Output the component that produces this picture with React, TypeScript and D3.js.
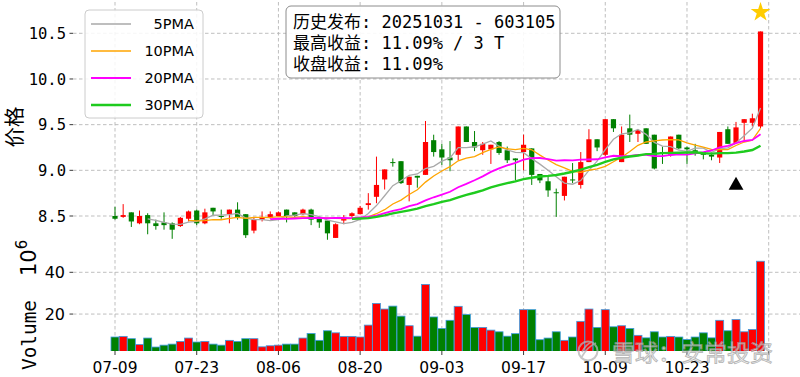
import React from 'react';
import * as d3 from 'd3';

const dates = [
  '07-09','07-10','07-11','07-14','07-15','07-16','07-17','07-18','07-21','07-22',
  '07-23','07-24','07-25','07-28','07-29','07-30','07-31','08-01','08-04','08-05',
  '08-06','08-07','08-08','08-11','08-12','08-13','08-14','08-15','08-18','08-19',
  '08-20','08-21','08-22','08-25','08-26','08-27','08-28','08-29','09-01','09-02',
  '09-03','09-04','09-05','09-08','09-09','09-10','09-11','09-12','09-15','09-16',
  '09-17','09-18','09-19','09-22','09-23','09-24','09-25','09-26','09-29','09-30',
  '10-09','10-10','10-13','10-14','10-15','10-16','10-17','10-20','10-21','10-22',
  '10-23','10-24','10-27','10-28','10-29','10-30','10-31','11-03','11-04','11-05',
];
const opens = [
  8.50,8.49,8.54,8.42,8.51,8.42,8.43,8.42,8.39,8.47,
  8.56,8.42,8.59,8.50,8.52,8.57,8.52,8.34,8.46,8.49,
  8.50,8.57,8.54,8.52,8.57,8.47,8.45,8.26,8.45,8.50,
  8.52,8.62,8.71,8.90,9.09,9.10,8.84,8.94,8.95,9.33,
  9.23,9.14,9.17,9.48,9.31,9.22,9.23,9.31,9.22,9.13,
  9.20,9.24,8.96,8.88,8.76,8.72,8.90,8.84,9.09,9.34,
  9.17,9.56,9.09,9.46,9.40,9.46,9.39,9.20,9.17,9.39,
  9.25,9.22,9.20,9.17,9.14,9.45,9.30,9.52,9.52,9.48,
];
const highs = [
  8.60,8.63,8.54,8.56,8.53,8.46,8.54,8.43,8.49,8.56,
  8.57,8.58,8.59,8.57,8.57,8.65,8.52,8.49,8.55,8.55,
  8.55,8.57,8.54,8.58,8.58,8.47,8.45,8.42,8.51,8.54,
  8.61,8.75,9.15,9.01,9.13,9.10,8.93,8.94,9.54,9.39,
  9.29,9.32,9.48,9.48,9.43,9.31,9.28,9.32,9.26,9.13,
  9.39,9.24,8.96,8.94,8.80,8.93,9.08,9.20,9.45,9.34,
  9.56,9.56,9.48,9.61,9.44,9.46,9.39,9.26,9.37,9.39,
  9.26,9.29,9.20,9.20,9.42,9.48,9.53,9.56,9.62,10.52,
];
const lows = [
  8.46,8.48,8.38,8.41,8.30,8.35,8.35,8.25,8.38,8.44,
  8.40,8.41,8.51,8.47,8.42,8.46,8.26,8.31,8.44,8.47,
  8.49,8.43,8.49,8.51,8.40,8.37,8.24,8.26,8.41,8.47,
  8.52,8.57,8.64,8.79,9.04,8.85,8.66,8.81,8.95,9.15,
  9.06,8.99,9.11,9.31,9.21,9.17,9.07,9.17,9.08,8.89,
  9.00,8.84,8.86,8.71,8.49,8.67,8.86,8.80,9.09,9.21,
  9.15,9.42,9.09,9.31,9.31,9.29,9.01,9.07,9.15,9.23,
  9.07,9.16,9.12,9.11,9.08,9.29,9.30,9.31,9.48,9.46,
];
const closes = [
  8.47,8.51,8.44,8.50,8.42,8.39,8.40,8.35,8.48,8.55,
  8.42,8.54,8.55,8.49,8.57,8.49,8.29,8.46,8.49,8.52,
  8.54,8.50,8.50,8.57,8.46,8.43,8.31,8.41,8.47,8.53,
  8.59,8.64,8.84,9.01,9.08,8.86,8.93,8.92,9.31,9.20,
  9.14,9.11,9.48,9.31,9.25,9.29,9.28,9.19,9.11,9.11,
  9.28,8.95,8.89,8.78,8.75,8.93,8.89,9.09,9.34,9.25,
  9.56,9.46,9.39,9.39,9.44,9.29,9.02,9.18,9.37,9.24,
  9.23,9.20,9.17,9.15,9.42,9.29,9.47,9.56,9.57,10.52,
];
const volumes = [
  9.0,9.3,8.2,5.4,8.5,4.2,5.1,5.6,6.9,8.5,
  6.6,6.9,5.6,5.1,7.4,6.9,8.2,8.2,4.3,4.8,
  5.1,5.6,5.6,8.5,10.7,7.4,12.0,11.0,9.3,9.3,
  9.0,14.7,25.1,22.4,23.8,19.0,14.4,9.4,34.2,18.6,
  13.1,17.0,23.7,19.8,13.6,13.6,12.3,11.5,9.4,10.6,
  22.1,22.1,7.7,8.5,11.5,7.4,9.0,16.5,22.4,13.6,
  22.1,13.9,14.4,13.1,9.8,8.6,11.5,9.0,9.3,9.0,
  7.8,9.0,11.0,8.6,17.0,12.0,17.4,11.5,12.6,45.3,
];
const tickIndices = [0, 10, 20, 30, 40, 50, 60, 70, 80];
const tickLabels = ['07-09','07-23','08-06','08-20','09-03','09-17','10-09','10-23',''];
const priceTicks = [8.5, 9.0, 9.5, 10.0, 10.5];
const volumeTicks = [20, 40];
const maWindows = [5, 10, 20, 30];
const maLabels = ['5PMA', '10PMA', '20PMA', '30PMA'];
const maColors = ['#a9a9a9', '#ffa500', '#ff00ff', '#1ecb1e'];
const maWidths = [1.3, 1.3, 1.8, 2.4];
const releaseIndex = 76;
const annotationLines = [
  '历史发布: 20251031 - 603105',
  '最高收益: 11.09% / 3 T',
  '收盘收益: 11.09%',
];

const W = 800, H = 377;
const AX_L = 73, AX_R = 800;
const P_TOP = 2, P_BOT = 245, V_TOP = 245, V_BOT = 351;
const UP = '#ff0000', DOWN = '#008000';
const GRID = '#b8b8b8';

export default function App() {
  const x = d3.scaleLinear().domain([0, 80]).range([115, 768.7]);
  const y = d3.scaleLinear().domain([8.5, 10.5]).range([216, 33.3]);
  const yv = d3.scaleLinear().domain([0, 40]).range([355.8, 272.3]);
  const step = x(1) - x(0);

  const maSeries = maWindows.map((w) => {
    const pts: [number, number][] = [];
    for (let i = w - 1; i < closes.length; i++) {
      pts.push([i, d3.mean(closes.slice(i - w + 1, i + 1)) as number]);
    }
    return pts;
  });
  const line = d3.line<[number, number]>().x((d) => x(d[0])).y((d) => y(d[1]));

  const last = closes.length - 1;
  const starSym = d3.symbol().type(d3.symbolStar).size(120)();
  const triSym = d3.symbol().type(d3.symbolTriangle).size(95)();

  const mono = '"DejaVu Sans Mono", "Noto Sans CJK SC", monospace';
  const sans = '"DejaVu Sans", sans-serif';
  const cjk = '"Noto Sans CJK SC", sans-serif';

  return (
    <div style={{ position: 'absolute', left: 0, top: 0 }}>
      <svg width={W} height={H} style={{ display: 'block', background: '#fff' }}>
        <defs>
          <clipPath id="pclip"><rect x={AX_L} y={P_TOP} width={AX_R - AX_L} height={P_BOT - P_TOP} /></clipPath>
          <clipPath id="vclip"><rect x={AX_L} y={V_TOP} width={AX_R - AX_L} height={V_BOT - V_TOP} /></clipPath>
        </defs>

        {tickIndices.map((t) => (
          <line key={'vg' + t} x1={x(t)} x2={x(t)} y1={P_TOP} y2={V_BOT}
            stroke={GRID} strokeWidth={0.9} strokeDasharray="3.5,2.5" />
        ))}
        {priceTicks.map((p) => (
          <line key={'pg' + p} x1={AX_L} x2={AX_R} y1={y(p)} y2={y(p)}
            stroke={GRID} strokeWidth={0.9} strokeDasharray="3.5,2.5" />
        ))}
        {volumeTicks.map((v) => (
          <line key={'vgl' + v} x1={AX_L} x2={AX_R} y1={yv(v)} y2={yv(v)}
            stroke={GRID} strokeWidth={0.9} strokeDasharray="3.5,2.5" />
        ))}

        <g clipPath="url(#vclip)">
          {volumes.map((v, i) => (
            <rect key={'vb' + i} x={x(i) - step * 0.49} width={step * 0.98}
              y={yv(v)} height={V_BOT + 2 - yv(v)}
              fill={closes[i] >= opens[i] ? UP : DOWN} stroke="#3d9be0" strokeWidth={0.8} />
          ))}
        </g>

        <g clipPath="url(#pclip)">
          {closes.map((c, i) => {
            const o = opens[i];
            const col = c >= o ? UP : DOWN;
            const top = y(Math.max(o, c));
            const bh = Math.max(1, Math.abs(y(o) - y(c)));
            return (
              <g key={'c' + i}>
                <line x1={x(i)} x2={x(i)} y1={y(highs[i])} y2={y(lows[i])} stroke={col} strokeWidth={1} />
                <rect x={x(i) - 2.6} width={5.2} y={top} height={bh} fill={col} />
              </g>
            );
          })}
          {maSeries.map((s, k) => (
            <path key={'ma' + k} d={line(s) || ''} fill="none" stroke={maColors[k]} strokeWidth={maWidths[k]} />
          ))}
          <path d={starSym || ''} transform={`translate(${x(last)},${y(highs[last] * 1.02)})`} fill="#ffcc00" />
          <path d={triSym || ''} transform={`translate(${x(releaseIndex)},${y(lows[releaseIndex] * 0.95)})`} fill="#000" />
        </g>

        {priceTicks.map((p) => (
          <g key={'pt' + p}>
            <line x1={AX_L - 3.5} x2={AX_L} y1={y(p)} y2={y(p)} stroke="#222" strokeWidth={0.9} />
            <text x={AX_L - 7} y={y(p)} dy="0.36em" textAnchor="end" fontFamily={mono} fontSize={15.5} fill="#000">
              {p.toFixed(1)}
            </text>
          </g>
        ))}
        {volumeTicks.map((v) => (
          <g key={'vt' + v}>
            <line x1={AX_L - 3.5} x2={AX_L} y1={yv(v)} y2={yv(v)} stroke="#222" strokeWidth={0.9} />
            <text x={AX_L - 8} y={yv(v)} dy="0.36em" textAnchor="end" fontFamily={sans} fontSize={16} fill="#000">
              {v}
            </text>
          </g>
        ))}
        {tickIndices.map((t, k) => (
          <g key={'xt' + t}>
            <line x1={x(t)} x2={x(t)} y1={V_BOT} y2={V_BOT + 4} stroke="#222" strokeWidth={0.9} />
            <text x={x(t)} y={373} textAnchor="middle" fontFamily={sans} fontSize={15.5} fill="#000">
              {tickLabels[k]}
            </text>
          </g>
        ))}

        <text transform="translate(13,127) rotate(-90)" textAnchor="middle" dominantBaseline="central"
          fontFamily={cjk} fontSize={20.5} fill="#000">价格</text>
        <text transform="translate(36,335) rotate(-90)" textAnchor="middle"
          fontFamily={mono} fontSize={20} textLength={70} lengthAdjust="spacingAndGlyphs" fill="#000">Volume</text>
        <text transform="translate(36,276) rotate(-90)" fontFamily={sans} fontSize={21} fill="#000">
          10
          <tspan fontSize={15} dy={-9}>6</tspan>
        </text>

        <rect x={85} y={10} width={118} height={108} rx={4} fill="#fff" fillOpacity={0.85} stroke="#cccccc" strokeWidth={1} />
        {maLabels.map((lab, k) => {
          const ly = 24 + k * 27;
          return (
            <g key={'lg' + k}>
              <line x1={91} x2={131} y1={ly} y2={ly} stroke={maColors[k]} strokeWidth={maWidths[k]} />
              <text x={194} y={ly} dy="0.36em" textAnchor="end" fontFamily={sans} fontSize={14.5} fill="#000">{lab}</text>
            </g>
          );
        })}

        <rect x={286} y={6} width={274} height={72} rx={5} fill="#fff" fillOpacity={0.9} stroke="#8c8c8c" strokeWidth={1} />
        {annotationLines.map((t, k) => (
          <text key={'an' + k} x={293} y={28.3 + k * 20.9} fontFamily={mono} fontSize={17} fill="#000">{t}</text>
        ))}

        <g opacity={0.75}>
          <circle cx={588} cy={351} r={9.5} fill="none" stroke="#b5b5b5" strokeWidth={2} />
          <path d="M581,358 Q588,346 596,343 M582,352 Q586,344 592,342" fill="none" stroke="#b5b5b5" strokeWidth={1.8} />
          <text x={612} y={361} fontFamily={cjk} fontSize={23} fill="#e6e6e6" stroke="#9a9a9a" strokeWidth={0.8}>
            雪球：安常投资
          </text>
        </g>
      </svg>
    </div>
  );
}
